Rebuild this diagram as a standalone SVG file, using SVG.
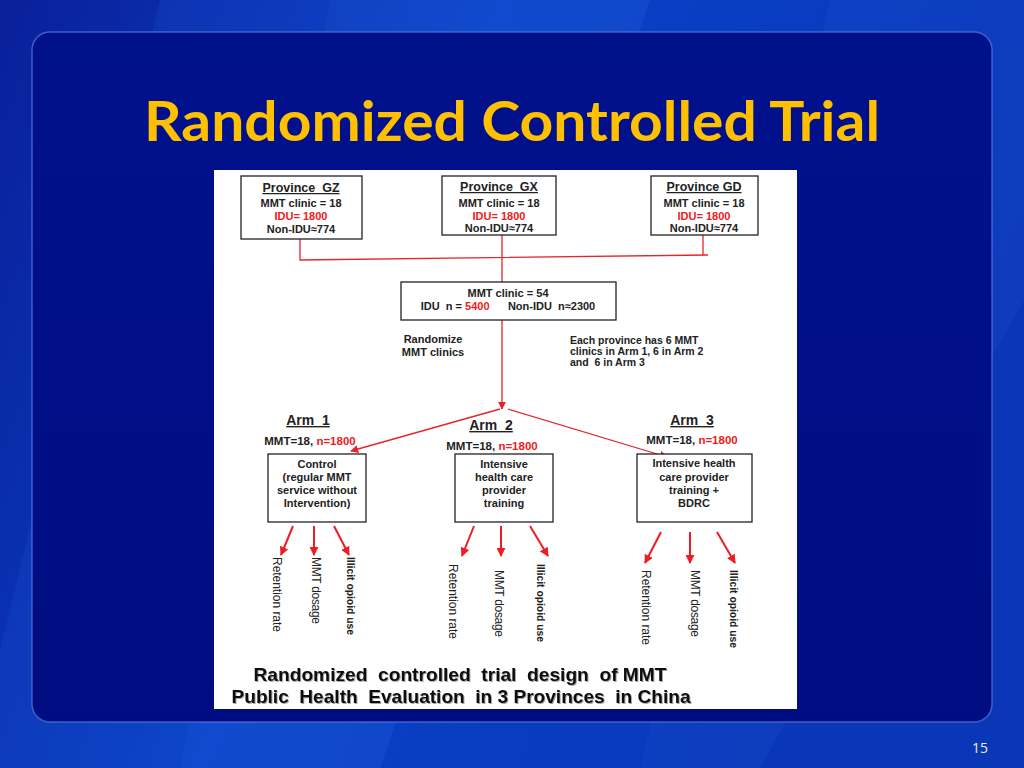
<svg xmlns="http://www.w3.org/2000/svg" width="1024" height="768" viewBox="0 0 1024 768">
<defs>
<linearGradient id="bg" x1="0" y1="0" x2="1" y2="0.3">
<stop offset="0" stop-color="#0a1f9a"/>
<stop offset="0.45" stop-color="#0842c8"/>
<stop offset="1" stop-color="#0a36b8"/>
</linearGradient>
<linearGradient id="panel" x1="0" y1="0" x2="0" y2="1">
<stop offset="0" stop-color="#00118c"/>
<stop offset="1" stop-color="#000d82"/>
</linearGradient>
<marker id="ah" viewBox="0 0 10 10" refX="9" refY="5" markerWidth="8" markerHeight="8" orient="auto" markerUnits="userSpaceOnUse">
<path d="M0,0 L10,5 L0,10 z" fill="#ee1c24"/>
</marker>
<marker id="ahb" viewBox="0 0 10 10" refX="9" refY="5" markerWidth="9" markerHeight="9" orient="auto" markerUnits="userSpaceOnUse">
<path d="M0,0 L10,5 L0,10 z" fill="#ee1c24"/>
</marker>
<filter id="sh" x="-5%" y="-20%" width="110%" height="140%">
<feDropShadow dx="1" dy="1" stdDeviation="0.6" flood-color="#000" flood-opacity="0.35"/>
</filter>
</defs>
<style>
.t{font-family:"Liberation Sans",Arial,sans-serif;font-weight:bold;font-size:11px;fill:#222;text-anchor:middle}
.r{fill:#ee2020}
.h{font-size:12.5px;text-decoration:underline}
.a{font-size:14px;text-decoration:underline}
.box{fill:#fff;stroke:#222;stroke-width:1.3}
.ln{stroke:#e5262b;stroke-width:1.3;fill:none}
.oa{stroke:#ee1c24;stroke-width:2;fill:none}
.v{font-family:"Liberation Sans",Arial,sans-serif;font-size:12px;fill:#222}
.vb{font-weight:bold;font-size:11px}
.cap{font-family:"Liberation Sans",Arial,sans-serif;font-weight:bold;font-size:18.5px;fill:#111;text-anchor:middle}
</style>
<rect width="1024" height="768" fill="url(#bg)"/>
<polygon points="160,0 330,0 180,768 0,768 0,650" fill="#1a4fd0" opacity="0.25"/>
<polygon points="330,0 650,0 380,768 180,768" fill="#2a62e0" opacity="0.25"/>
<polygon points="830,0 1024,0 1024,300 760,768 640,768" fill="#1f55d4" opacity="0.2"/>
<rect x="32" y="32" width="960" height="690" rx="18" fill="url(#panel)" stroke="#5a78d8" stroke-opacity="0.7" stroke-width="1.5"/>
<text x="512" y="141" text-anchor="middle" font-family="Lato,'Open Sans',sans-serif" font-weight="bold" font-size="56" fill="#ffc000" textLength="736" lengthAdjust="spacingAndGlyphs">Randomized Controlled Trial</text>
<text x="988" y="753" text-anchor="end" font-family="'Open Sans',sans-serif" font-size="14" fill="#e8ecff">15</text>

<rect x="214" y="170" width="583" height="539" fill="#fff"/>

<g id="connectors">
<polyline class="ln" points="300,239 300,260 708,255"/>
<line class="ln" x1="502" y1="235" x2="502" y2="282"/>
<line class="ln" x1="703" y1="235" x2="703" y2="255"/>
<line class="ln" x1="502" y1="320" x2="502" y2="409" marker-end="url(#ah)"/>
<line class="ln" x1="500" y1="409" x2="351" y2="451" marker-end="url(#ah)"/>
<line class="ln" x1="508" y1="409" x2="667" y2="457" marker-end="url(#ah)"/>
<line class="oa" x1="293" y1="526" x2="281" y2="555" marker-end="url(#ahb)"/>
<line class="oa" x1="314" y1="526" x2="314" y2="555" marker-end="url(#ahb)"/>
<line class="oa" x1="334" y1="526" x2="349" y2="555" marker-end="url(#ahb)"/>
<line class="oa" x1="474" y1="526" x2="462" y2="556" marker-end="url(#ahb)"/>
<line class="oa" x1="501" y1="526" x2="501" y2="556" marker-end="url(#ahb)"/>
<line class="oa" x1="530" y1="526" x2="548" y2="556" marker-end="url(#ahb)"/>
<line class="oa" x1="661" y1="532" x2="645" y2="563" marker-end="url(#ahb)"/>
<line class="oa" x1="690" y1="532" x2="690" y2="563" marker-end="url(#ahb)"/>
<line class="oa" x1="717" y1="532" x2="735" y2="563" marker-end="url(#ahb)"/>
</g>

<g id="gz">
<rect class="box" x="241" y="176" width="121" height="63"/>
<text class="t h" x="301" y="192" xml:space="preserve">Province  GZ</text>
<text class="t" x="301" y="207">MMT clinic = 18</text>
<text class="t r" x="301" y="220">IDU= 1800</text>
<text class="t" x="301" y="233">Non-IDU≈774</text>
</g>
<g id="gx">
<rect class="box" x="442" y="176" width="114" height="59"/>
<text class="t h" x="499" y="191" xml:space="preserve">Province  GX</text>
<text class="t" x="499" y="207">MMT clinic = 18</text>
<text class="t r" x="499" y="220">IDU= 1800</text>
<text class="t" x="499" y="232">Non-IDU≈774</text>
</g>
<g id="gd">
<rect class="box" x="651" y="176" width="107" height="59"/>
<text class="t h" x="704" y="191">Province GD</text>
<text class="t" x="704" y="207">MMT clinic = 18</text>
<text class="t r" x="704" y="220">IDU= 1800</text>
<text class="t" x="704" y="232">Non-IDU≈774</text>
</g>
<g id="mmt">
<rect class="box" x="401" y="282" width="215" height="38"/>
<text class="t" x="508" y="297">MMT clinic = 54</text>
<text class="t" x="508" y="310" xml:space="preserve">IDU  n = <tspan class="r">5400</tspan>      Non-IDU  n≈2300</text>
</g>
<g id="randomize">
<text class="t" x="433" y="343">Randomize</text>
<text class="t" x="433" y="356">MMT clinics</text>
</g>
<g id="note">
<text class="t" x="570" y="344" style="text-anchor:start;font-size:10.5px">Each province has 6 MMT</text>
<text class="t" x="570" y="355" style="text-anchor:start;font-size:10.5px">clinics in Arm 1, 6 in Arm 2</text>
<text class="t" x="570" y="366" style="text-anchor:start;font-size:10.5px" xml:space="preserve">and  6 in Arm 3</text>
</g>
<g id="arm1">
<text class="t a" x="308" y="425" xml:space="preserve">Arm  1</text>
<text class="t" x="310" y="445" style="font-size:11.5px">MMT=18, <tspan class="r">n=1800</tspan></text>
<rect class="box" x="268" y="454" width="98" height="68"/>
<text class="t" x="317" y="468">Control</text>
<text class="t" x="317" y="481">(regular MMT</text>
<text class="t" x="317" y="494">service without</text>
<text class="t" x="317" y="507">Intervention)</text>
</g>
<g id="arm2">
<text class="t a" x="491" y="430" xml:space="preserve">Arm  2</text>
<text class="t" x="492" y="450" style="font-size:11.5px">MMT=18, <tspan class="r">n=1800</tspan></text>
<rect class="box" x="455" y="454" width="98" height="68"/>
<text class="t" x="504" y="468">Intensive</text>
<text class="t" x="504" y="481">health care</text>
<text class="t" x="504" y="494">provider</text>
<text class="t" x="504" y="507">training</text>
</g>
<g id="arm3">
<text class="t a" x="692" y="425" xml:space="preserve">Arm  3</text>
<text class="t" x="692" y="444" style="font-size:11.5px">MMT=18, <tspan class="r">n=1800</tspan></text>
<rect class="box" x="637" y="454" width="115" height="68"/>
<text class="t" x="694" y="467">Intensive health</text>
<text class="t" x="694" y="481">care provider</text>
<text class="t" x="694" y="494">training +</text>
<text class="t" x="694" y="507">BDRC</text>
</g>
<g id="outcomes1">
<text class="v" transform="translate(273,557) rotate(90)" textLength="75">Retention rate</text>
<text class="v" transform="translate(312,557) rotate(90)" textLength="67">MMT dosage</text>
<text class="v vb" transform="translate(347,557) rotate(90)" textLength="78" lengthAdjust="spacingAndGlyphs">Illicit opioid use</text>
</g>
<g id="outcomes2">
<text class="v" transform="translate(449,564) rotate(90)" textLength="75">Retention rate</text>
<text class="v" transform="translate(495,570) rotate(90)" textLength="67">MMT dosage</text>
<text class="v vb" transform="translate(537,564) rotate(90)" textLength="78" lengthAdjust="spacingAndGlyphs">Illicit opioid use</text>
</g>
<g id="outcomes3">
<text class="v" transform="translate(642,570) rotate(90)" textLength="75">Retention rate</text>
<text class="v" transform="translate(691,570) rotate(90)" textLength="67">MMT dosage</text>
<text class="v vb" transform="translate(730,570) rotate(90)" textLength="78" lengthAdjust="spacingAndGlyphs">Illicit opioid use</text>
</g>
<g id="caption" filter="url(#sh)">
<text class="cap" x="460" y="681" xml:space="preserve" textLength="413" lengthAdjust="spacingAndGlyphs">Randomized  controlled  trial  design  of MMT</text>
<text class="cap" x="461" y="703" xml:space="preserve" textLength="459" lengthAdjust="spacingAndGlyphs">Public  Health  Evaluation  in 3 Provinces  in China</text>
</g>
</svg>
